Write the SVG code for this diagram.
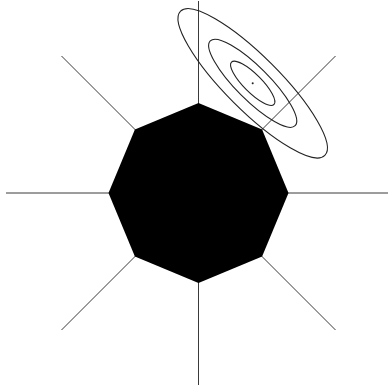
<svg xmlns="http://www.w3.org/2000/svg" width="388" height="388" viewBox="0 0 388 388">
<style>
.ray{stroke:#3a3a3a;stroke-width:1;fill:none}
.ell{stroke:#222;stroke-width:1.1;fill:none}
</style>
<rect width="388" height="388" fill="#fff"/>
<g id="connectors">
<line class="ray" x1="198.5" y1="193" x2="198.5" y2="1"/>
<line class="ray" x1="198.5" y1="193" x2="198.5" y2="385"/>
<line class="ray" x1="198.5" y1="193" x2="6" y2="193"/>
<line class="ray" x1="198.5" y1="193" x2="390" y2="193"/>
<line class="ray" x1="198.5" y1="193" x2="61.5" y2="56"/>
<line class="ray" x1="198.5" y1="193" x2="335.5" y2="56"/>
<line class="ray" x1="198.5" y1="193" x2="61.5" y2="330"/>
<line class="ray" x1="198.5" y1="193" x2="335.5" y2="330"/>
</g>
<g id="octagon">
<polygon points="198.5,103 262.1,129.4 288.5,193 262.1,256.6 198.5,283 134.9,256.6 108.5,193 134.9,129.4" fill="#000"/>
</g>
<g id="contours" transform="translate(252.7,83.3) rotate(45)">
<ellipse class="ell" cx="0" cy="0" rx="102" ry="27"/>
<ellipse class="ell" cx="0" cy="0" rx="60" ry="16.5"/>
<ellipse class="ell" cx="0" cy="0" rx="30" ry="9"/>
<circle cx="0" cy="0" r="1" fill="#222"/>
</g>
</svg>
